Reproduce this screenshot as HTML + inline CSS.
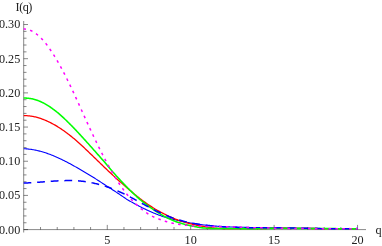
<!DOCTYPE html>
<html><head><meta charset="utf-8"><title>I(q)</title>
<style>
html,body{margin:0;padding:0;background:#fff;}
body{width:382px;height:246px;overflow:hidden;}
svg{display:block;}
text{font-family:"Liberation Serif",serif;font-size:12.2px;fill:#222;}
</style></head><body>
<svg width="382" height="246" viewBox="0 0 382 246">
<defs><filter id="gs" x="0" y="0" width="382" height="246" filterUnits="userSpaceOnUse"><feOffset dx="0" dy="0"/></filter></defs>
<rect width="382" height="246" fill="#fff"/>
<g stroke="#000" stroke-width="0.47" fill="none">
<line x1="23.7" y1="21.0" x2="23.7" y2="232.5"/>
<line x1="23.7" y1="229.6" x2="366" y2="229.6"/>
<line x1="23.7" y1="229.60" x2="28.0" y2="229.60"/>
<line x1="23.7" y1="222.76" x2="26.5" y2="222.76"/>
<line x1="23.7" y1="215.93" x2="26.5" y2="215.93"/>
<line x1="23.7" y1="209.09" x2="26.5" y2="209.09"/>
<line x1="23.7" y1="202.26" x2="26.5" y2="202.26"/>
<line x1="23.7" y1="195.42" x2="28.0" y2="195.42"/>
<line x1="23.7" y1="188.58" x2="26.5" y2="188.58"/>
<line x1="23.7" y1="181.75" x2="26.5" y2="181.75"/>
<line x1="23.7" y1="174.91" x2="26.5" y2="174.91"/>
<line x1="23.7" y1="168.08" x2="26.5" y2="168.08"/>
<line x1="23.7" y1="161.24" x2="28.0" y2="161.24"/>
<line x1="23.7" y1="154.40" x2="26.5" y2="154.40"/>
<line x1="23.7" y1="147.57" x2="26.5" y2="147.57"/>
<line x1="23.7" y1="140.73" x2="26.5" y2="140.73"/>
<line x1="23.7" y1="133.90" x2="26.5" y2="133.90"/>
<line x1="23.7" y1="127.06" x2="28.0" y2="127.06"/>
<line x1="23.7" y1="120.22" x2="26.5" y2="120.22"/>
<line x1="23.7" y1="113.39" x2="26.5" y2="113.39"/>
<line x1="23.7" y1="106.55" x2="26.5" y2="106.55"/>
<line x1="23.7" y1="99.72" x2="26.5" y2="99.72"/>
<line x1="23.7" y1="92.88" x2="28.0" y2="92.88"/>
<line x1="23.7" y1="86.04" x2="26.5" y2="86.04"/>
<line x1="23.7" y1="79.21" x2="26.5" y2="79.21"/>
<line x1="23.7" y1="72.37" x2="26.5" y2="72.37"/>
<line x1="23.7" y1="65.54" x2="26.5" y2="65.54"/>
<line x1="23.7" y1="58.70" x2="28.0" y2="58.70"/>
<line x1="23.7" y1="51.86" x2="26.5" y2="51.86"/>
<line x1="23.7" y1="45.03" x2="26.5" y2="45.03"/>
<line x1="23.7" y1="38.19" x2="26.5" y2="38.19"/>
<line x1="23.7" y1="31.36" x2="26.5" y2="31.36"/>
<line x1="23.7" y1="24.52" x2="28.0" y2="24.52"/>
<line x1="40.53" y1="229.6" x2="40.53" y2="227.0"/>
<line x1="57.22" y1="229.6" x2="57.22" y2="227.0"/>
<line x1="73.91" y1="229.6" x2="73.91" y2="227.0"/>
<line x1="90.59" y1="229.6" x2="90.59" y2="227.0"/>
<line x1="107.28" y1="229.6" x2="107.28" y2="224.9"/>
<line x1="123.96" y1="229.6" x2="123.96" y2="227.0"/>
<line x1="140.64" y1="229.6" x2="140.64" y2="227.0"/>
<line x1="157.33" y1="229.6" x2="157.33" y2="227.0"/>
<line x1="174.01" y1="229.6" x2="174.01" y2="227.0"/>
<line x1="190.70" y1="229.6" x2="190.70" y2="224.9"/>
<line x1="207.38" y1="229.6" x2="207.38" y2="227.0"/>
<line x1="224.07" y1="229.6" x2="224.07" y2="227.0"/>
<line x1="240.75" y1="229.6" x2="240.75" y2="227.0"/>
<line x1="257.44" y1="229.6" x2="257.44" y2="227.0"/>
<line x1="274.12" y1="229.6" x2="274.12" y2="224.9"/>
<line x1="290.81" y1="229.6" x2="290.81" y2="227.0"/>
<line x1="307.50" y1="229.6" x2="307.50" y2="227.0"/>
<line x1="324.18" y1="229.6" x2="324.18" y2="227.0"/>
<line x1="340.87" y1="229.6" x2="340.87" y2="227.0"/>
<line x1="357.55" y1="229.6" x2="357.55" y2="224.9"/>
</g>
<g fill="none" stroke-linejoin="round">
<path d="M23.70,148.71 L24.54,148.75 L25.37,148.79 L26.21,148.85 L27.05,148.92 L27.89,148.99 L28.72,149.08 L29.56,149.18 L30.40,149.29 L31.23,149.40 L32.07,149.53 L32.91,149.67 L33.75,149.81 L34.58,149.97 L35.42,150.14 L36.26,150.31 L37.09,150.50 L37.93,150.69 L38.77,150.89 L39.60,151.10 L40.44,151.32 L41.28,151.55 L42.12,151.79 L42.95,152.03 L43.79,152.29 L44.63,152.55 L45.46,152.82 L46.30,153.10 L47.14,153.39 L47.98,153.68 L48.81,153.98 L49.65,154.29 L50.49,154.61 L51.32,154.93 L52.16,155.26 L53.00,155.60 L53.84,155.94 L54.67,156.29 L55.51,156.65 L56.35,157.01 L57.18,157.38 L58.02,157.76 L58.86,158.14 L59.69,158.53 L60.53,158.92 L61.37,159.32 L62.21,159.73 L63.04,160.14 L63.88,160.55 L64.72,160.97 L65.55,161.40 L66.39,161.83 L67.23,162.27 L68.07,162.71 L68.90,163.15 L69.74,163.60 L70.58,164.06 L71.41,164.52 L72.25,164.98 L73.09,165.45 L73.93,165.92 L74.76,166.39 L75.60,166.87 L76.44,167.35 L77.27,167.84 L78.11,168.32 L78.95,168.82 L79.79,169.31 L80.62,169.81 L81.46,170.31 L82.30,170.81 L83.13,171.31 L83.97,171.81 L84.81,172.30 L85.64,172.79 L86.48,173.27 L87.32,173.76 L88.16,174.25 L88.99,174.74 L89.83,175.23 L90.67,175.73 L91.50,176.23 L92.34,176.73 L93.18,177.25 L94.02,177.77 L94.85,178.30 L95.69,178.84 L96.53,179.38 L97.36,179.92 L98.20,180.46 L99.04,181.01 L99.88,181.55 L100.71,182.09 L101.55,182.64 L102.39,183.18 L103.22,183.72 L104.06,184.27 L104.90,184.81 L105.74,185.36 L106.57,185.90 L107.41,186.44 L108.25,186.98 L109.08,187.52 L109.92,188.06 L110.76,188.60 L111.59,189.14 L112.43,189.68 L113.27,190.21 L114.11,190.75 L114.94,191.29 L115.78,191.84 L116.62,192.39 L117.45,192.95 L118.29,193.51 L119.13,194.07 L119.97,194.63 L120.80,195.19 L121.64,195.76 L122.48,196.34 L123.31,196.92 L124.15,197.50 L124.99,198.07 L125.83,198.63 L126.66,199.17 L127.50,199.69 L128.34,200.18 L129.17,200.67 L130.01,201.15 L130.85,201.63 L131.68,202.11 L132.52,202.58 L133.36,203.04 L134.20,203.51 L135.03,203.96 L135.87,204.42 L136.71,204.87 L137.54,205.31 L138.38,205.76 L139.22,206.19 L140.06,206.63 L140.89,207.05 L141.73,207.48 L142.57,207.89 L143.40,208.31 L144.24,208.72 L145.08,209.12 L145.92,209.52 L146.75,209.92 L147.59,210.31 L148.43,210.69 L149.26,211.07 L150.10,211.45 L150.94,211.82 L151.78,212.18 L152.61,212.54 L153.45,212.90 L154.29,213.25 L155.12,213.59 L155.96,213.93 L156.80,214.26 L157.63,214.59 L158.47,214.91 L159.31,215.23 L160.15,215.54 L160.98,215.85 L161.82,216.14 L162.66,216.42 L163.49,216.69 L164.33,216.95 L165.17,217.20 L166.01,217.44 L166.84,217.68 L167.68,217.91 L168.52,218.14 L169.35,218.36 L170.19,218.57 L171.03,218.78 L171.87,218.99 L172.70,219.20 L173.54,219.40 L174.38,219.61 L175.21,219.81 L176.05,220.01 L176.89,220.20 L177.73,220.39 L178.56,220.58 L179.40,220.76 L180.24,220.94 L181.07,221.12 L181.91,221.29 L182.75,221.47 L183.58,221.64 L184.42,221.82 L185.26,221.99 L186.10,222.16 L186.93,222.33 L187.77,222.50 L188.61,222.66 L189.44,222.81 L190.28,222.97 L191.12,223.12 L191.96,223.26 L192.79,223.40 L193.63,223.54 L194.47,223.68 L195.30,223.81 L196.14,223.94 L196.98,224.07 L197.82,224.19 L198.65,224.31 L199.49,224.43 L200.33,224.54 L201.16,224.65 L202.00,224.76 L202.84,224.86 L203.67,224.96 L204.51,225.06 L205.35,225.16 L206.19,225.25 L207.02,225.34 L207.86,225.43 L208.70,225.51 L209.53,225.59 L210.37,225.67 L211.21,225.75 L212.05,225.83 L212.88,225.90 L213.72,225.97 L214.56,226.04 L215.39,226.10 L216.23,226.16 L217.07,226.23 L217.91,226.29 L218.74,226.34 L219.58,226.40 L220.42,226.45 L221.25,226.50 L222.09,226.55 L222.93,226.60 L223.77,226.64 L224.60,226.69 L225.44,226.73 L226.28,226.77 L227.11,226.81 L227.95,226.84 L228.79,226.88 L229.62,226.91 L230.46,226.94 L231.30,226.97 L232.14,227.00 L232.97,227.03 L233.81,227.06 L234.65,227.09 L235.48,227.11 L236.32,227.13 L237.16,227.16 L238.00,227.18 L238.83,227.20 L239.67,227.22 L240.51,227.24 L241.34,227.25 L242.18,227.27 L243.02,227.29 L243.86,227.31 L244.69,227.33 L245.53,227.35 L246.37,227.37 L247.20,227.38 L248.04,227.40 L248.88,227.42 L249.72,227.44 L250.55,227.46 L251.39,227.48 L252.23,227.49 L253.06,227.51 L253.90,227.53 L254.74,227.55 L255.57,227.57 L256.41,227.59 L257.25,227.60 L258.09,227.62 L258.92,227.64 L259.76,227.66 L260.60,227.67 L261.43,227.69 L262.27,227.71 L263.11,227.72 L263.95,227.74 L264.78,227.75 L265.62,227.77 L266.46,227.78 L267.29,227.80 L268.13,227.81 L268.97,227.82 L269.81,227.83 L270.64,227.84 L271.48,227.85 L272.32,227.86 L273.15,227.87 L273.99,227.89 L274.83,227.90 L275.66,227.91 L276.50,227.92 L277.34,227.93 L278.18,227.94 L279.01,227.95 L279.85,227.96 L280.69,227.97 L281.52,227.98 L282.36,227.99 L283.20,228.00 L284.04,228.01 L284.87,228.03 L285.71,228.04 L286.55,228.05 L287.38,228.06 L288.22,228.07 L289.06,228.08 L289.90,228.09 L290.73,228.10 L291.57,228.11 L292.41,228.12 L293.24,228.13 L294.08,228.14 L294.92,228.15 L295.76,228.17 L296.59,228.18 L297.43,228.19 L298.27,228.20 L299.10,228.21 L299.94,228.22 L300.78,228.23 L301.61,228.24 L302.45,228.25 L303.29,228.26 L304.13,228.27 L304.96,228.28 L305.80,228.29 L306.64,228.30 L307.47,228.31 L308.31,228.32 L309.15,228.33 L309.99,228.34 L310.82,228.35 L311.66,228.36 L312.50,228.37 L313.33,228.38 L314.17,228.39 L315.01,228.40 L315.85,228.40 L316.68,228.41 L317.52,228.42 L318.36,228.43 L319.19,228.44 L320.03,228.45 L320.87,228.46 L321.71,228.47 L322.54,228.47 L323.38,228.48 L324.22,228.49 L325.05,228.50 L325.89,228.51 L326.73,228.51 L327.56,228.52 L328.40,228.53 L329.24,228.54 L330.08,228.54 L330.91,228.55 L331.75,228.56 L332.59,228.56 L333.42,228.57 L334.26,228.58 L335.10,228.58 L335.94,228.59 L336.77,228.60 L337.61,228.60 L338.45,228.61 L339.28,228.61 L340.12,228.62 L340.96,228.62 L341.80,228.63 L342.63,228.63 L343.47,228.64 L344.31,228.64 L345.14,228.65 L345.98,228.65 L346.82,228.66 L347.65,228.66 L348.49,228.66 L349.33,228.67 L350.17,228.67 L351.00,228.68 L351.84,228.68 L352.68,228.68 L353.51,228.68 L354.35,228.69 L355.19,228.69 L356.03,228.69 L356.86,228.69 L357.70,228.69" stroke="#0000ff" stroke-width="1.1"/>
<path d="M23.70,115.63 L24.54,115.63 L25.37,115.64 L26.21,115.67 L27.05,115.72 L27.89,115.78 L28.72,115.85 L29.56,115.94 L30.40,116.05 L31.23,116.17 L32.07,116.30 L32.91,116.45 L33.75,116.62 L34.58,116.79 L35.42,116.99 L36.26,117.19 L37.09,117.41 L37.93,117.65 L38.77,117.89 L39.60,118.15 L40.44,118.43 L41.28,118.72 L42.12,119.02 L42.95,119.33 L43.79,119.66 L44.63,120.00 L45.46,120.35 L46.30,120.71 L47.14,121.09 L47.98,121.47 L48.81,121.86 L49.65,122.27 L50.49,122.69 L51.32,123.11 L52.16,123.55 L53.00,124.00 L53.84,124.46 L54.67,124.93 L55.51,125.41 L56.35,125.91 L57.18,126.41 L58.02,126.93 L58.86,127.45 L59.69,127.99 L60.53,128.54 L61.37,129.10 L62.21,129.67 L63.04,130.24 L63.88,130.83 L64.72,131.43 L65.55,132.03 L66.39,132.65 L67.23,133.28 L68.07,133.91 L68.90,134.56 L69.74,135.21 L70.58,135.88 L71.41,136.55 L72.25,137.22 L73.09,137.91 L73.93,138.60 L74.76,139.31 L75.60,140.03 L76.44,140.76 L77.27,141.50 L78.11,142.24 L78.95,142.99 L79.79,143.75 L80.62,144.51 L81.46,145.28 L82.30,146.05 L83.13,146.82 L83.97,147.60 L84.81,148.39 L85.64,149.18 L86.48,149.97 L87.32,150.76 L88.16,151.56 L88.99,152.36 L89.83,153.16 L90.67,153.97 L91.50,154.77 L92.34,155.58 L93.18,156.39 L94.02,157.20 L94.85,158.01 L95.69,158.83 L96.53,159.64 L97.36,160.45 L98.20,161.26 L99.04,162.08 L99.88,162.89 L100.71,163.70 L101.55,164.51 L102.39,165.31 L103.22,166.12 L104.06,166.92 L104.90,167.72 L105.74,168.52 L106.57,169.32 L107.41,170.12 L108.25,170.91 L109.08,171.70 L109.92,172.49 L110.76,173.27 L111.59,174.05 L112.43,174.83 L113.27,175.61 L114.11,176.38 L114.94,177.15 L115.78,177.92 L116.62,178.67 L117.45,179.42 L118.29,180.17 L119.13,180.91 L119.97,181.64 L120.80,182.37 L121.64,183.10 L122.48,183.83 L123.31,184.55 L124.15,185.28 L124.99,186.01 L125.83,186.74 L126.66,187.47 L127.50,188.21 L128.34,188.94 L129.17,189.67 L130.01,190.39 L130.85,191.11 L131.68,191.82 L132.52,192.53 L133.36,193.24 L134.20,193.94 L135.03,194.64 L135.87,195.34 L136.71,196.03 L137.54,196.71 L138.38,197.38 L139.22,198.04 L140.06,198.69 L140.89,199.33 L141.73,199.96 L142.57,200.58 L143.40,201.20 L144.24,201.80 L145.08,202.40 L145.92,203.00 L146.75,203.58 L147.59,204.16 L148.43,204.73 L149.26,205.29 L150.10,205.84 L150.94,206.38 L151.78,206.91 L152.61,207.44 L153.45,207.96 L154.29,208.47 L155.12,208.98 L155.96,209.47 L156.80,209.96 L157.63,210.44 L158.47,210.91 L159.31,211.38 L160.15,211.83 L160.98,212.28 L161.82,212.73 L162.66,213.17 L163.49,213.60 L164.33,214.03 L165.17,214.45 L166.01,214.87 L166.84,215.28 L167.68,215.68 L168.52,216.08 L169.35,216.47 L170.19,216.85 L171.03,217.23 L171.87,217.60 L172.70,217.96 L173.54,218.31 L174.38,218.66 L175.21,218.99 L176.05,219.32 L176.89,219.64 L177.73,219.95 L178.56,220.26 L179.40,220.55 L180.24,220.83 L181.07,221.11 L181.91,221.38 L182.75,221.64 L183.58,221.90 L184.42,222.16 L185.26,222.40 L186.10,222.64 L186.93,222.88 L187.77,223.11 L188.61,223.33 L189.44,223.55 L190.28,223.76 L191.12,223.96 L191.96,224.17 L192.79,224.36 L193.63,224.55 L194.47,224.74 L195.30,224.92 L196.14,225.09 L196.98,225.26 L197.82,225.43 L198.65,225.59 L199.49,225.74 L200.33,225.89 L201.16,226.04 L202.00,226.18 L202.84,226.32 L203.67,226.45 L204.51,226.58 L205.35,226.72 L206.19,226.88 L207.02,227.03 L207.86,227.18 L208.70,227.32 L209.53,227.45 L210.37,227.57 L211.21,227.68 L212.05,227.79 L212.88,227.88 L213.72,227.97 L214.56,228.05 L215.39,228.13 L216.23,228.20 L217.07,228.26 L217.91,228.31 L218.74,228.36 L219.58,228.40 L220.42,228.43 L221.25,228.46 L222.09,228.49 L222.93,228.51 L223.77,228.52 L224.60,228.53 L225.44,228.54 L226.28,228.55 L227.11,228.55 L227.95,228.56 L228.79,228.56 L229.62,228.57 L230.46,228.57 L231.30,228.57 L232.14,228.57 L232.97,228.58 L233.81,228.58 L234.65,228.58 L235.48,228.58 L236.32,228.59 L237.16,228.59 L238.00,228.59 L238.83,228.60 L239.67,228.60 L240.51,228.61 L241.34,228.61 L242.18,228.62 L243.02,228.63 L243.86,228.64 L244.69,228.64 L245.53,228.65 L246.37,228.66 L247.20,228.67 L248.04,228.68 L248.88,228.69 L249.72,228.69 L250.55,228.70 L251.39,228.70 L252.23,228.71 L253.06,228.71 L253.90,228.71 L254.74,228.71 L255.57,228.71 L256.41,228.71 L257.25,228.70 L258.09,228.69 L258.92,228.68 L259.76,228.66 L260.60,228.64 L261.43,228.62 L262.27,228.60 L263.11,228.58 L263.95,228.55 L264.78,228.53 L265.62,228.50 L266.46,228.48 L267.29,228.46 L268.13,228.44 L268.97,228.42 L269.81,228.40 L270.64,228.39 L271.48,228.37 L272.32,228.36 L273.15,228.34 L273.99,228.33 L274.83,228.32 L275.66,228.31 L276.50,228.29 L277.34,228.28 L278.18,228.28 L279.01,228.27 L279.85,228.27 L280.69,228.26 L281.52,228.26 L282.36,228.26 L283.20,228.26 L284.04,228.27 L284.87,228.27 L285.71,228.27 L286.55,228.28 L287.38,228.28 L288.22,228.29 L289.06,228.29 L289.90,228.30 L290.73,228.31 L291.57,228.31 L292.41,228.32 L293.24,228.33 L294.08,228.34 L294.92,228.34 L295.76,228.35 L296.59,228.36 L297.43,228.37 L298.27,228.37 L299.10,228.38 L299.94,228.39 L300.78,228.39 L301.61,228.40 L302.45,228.40 L303.29,228.41 L304.13,228.42 L304.96,228.42 L305.80,228.43 L306.64,228.44 L307.47,228.45 L308.31,228.45 L309.15,228.46 L309.99,228.47 L310.82,228.47 L311.66,228.48 L312.50,228.49 L313.33,228.49 L314.17,228.50 L315.01,228.51 L315.85,228.52 L316.68,228.52 L317.52,228.53 L318.36,228.54 L319.19,228.54 L320.03,228.55 L320.87,228.56 L321.71,228.56 L322.54,228.57 L323.38,228.58 L324.22,228.58 L325.05,228.59 L325.89,228.59 L326.73,228.60 L327.56,228.60 L328.40,228.61 L329.24,228.61 L330.08,228.62 L330.91,228.62 L331.75,228.63 L332.59,228.63 L333.42,228.63 L334.26,228.64 L335.10,228.64 L335.94,228.64 L336.77,228.65 L337.61,228.65 L338.45,228.65 L339.28,228.66 L340.12,228.66 L340.96,228.66 L341.80,228.66 L342.63,228.67 L343.47,228.67 L344.31,228.67 L345.14,228.67 L345.98,228.67 L346.82,228.68 L347.65,228.68 L348.49,228.68 L349.33,228.68 L350.17,228.68 L351.00,228.68 L351.84,228.68 L352.68,228.68 L353.51,228.68 L354.35,228.68 L355.19,228.68 L356.03,228.68 L356.86,228.68 L357.70,228.67" stroke="#ff0000" stroke-width="1.3"/>
<path d="M23.70,98.10 L24.54,98.09 L25.37,98.10 L26.21,98.12 L27.05,98.17 L27.89,98.23 L28.72,98.31 L29.56,98.41 L30.40,98.54 L31.23,98.68 L32.07,98.84 L32.91,99.02 L33.75,99.23 L34.58,99.45 L35.42,99.70 L36.26,99.96 L37.09,100.24 L37.93,100.55 L38.77,100.87 L39.60,101.21 L40.44,101.57 L41.28,101.94 L42.12,102.34 L42.95,102.75 L43.79,103.18 L44.63,103.63 L45.46,104.10 L46.30,104.58 L47.14,105.08 L47.98,105.60 L48.81,106.13 L49.65,106.68 L50.49,107.24 L51.32,107.82 L52.16,108.42 L53.00,109.02 L53.84,109.65 L54.67,110.28 L55.51,110.93 L56.35,111.60 L57.18,112.27 L58.02,112.96 L58.86,113.67 L59.69,114.39 L60.53,115.12 L61.37,115.87 L62.21,116.62 L63.04,117.39 L63.88,118.16 L64.72,118.95 L65.55,119.74 L66.39,120.55 L67.23,121.36 L68.07,122.18 L68.90,123.01 L69.74,123.84 L70.58,124.69 L71.41,125.54 L72.25,126.40 L73.09,127.26 L73.93,128.13 L74.76,129.01 L75.60,129.89 L76.44,130.78 L77.27,131.67 L78.11,132.57 L78.95,133.47 L79.79,134.38 L80.62,135.29 L81.46,136.20 L82.30,137.11 L83.13,138.03 L83.97,138.95 L84.81,139.88 L85.64,140.80 L86.48,141.73 L87.32,142.66 L88.16,143.59 L88.99,144.52 L89.83,145.46 L90.67,146.40 L91.50,147.33 L92.34,148.27 L93.18,149.21 L94.02,150.15 L94.85,151.10 L95.69,152.04 L96.53,152.98 L97.36,153.92 L98.20,154.87 L99.04,155.81 L99.88,156.75 L100.71,157.70 L101.55,158.66 L102.39,159.63 L103.22,160.61 L104.06,161.59 L104.90,162.57 L105.74,163.56 L106.57,164.54 L107.41,165.52 L108.25,166.50 L109.08,167.49 L109.92,168.48 L110.76,169.46 L111.59,170.45 L112.43,171.43 L113.27,172.40 L114.11,173.35 L114.94,174.29 L115.78,175.22 L116.62,176.15 L117.45,177.07 L118.29,177.99 L119.13,178.90 L119.97,179.80 L120.80,180.71 L121.64,181.60 L122.48,182.49 L123.31,183.38 L124.15,184.25 L124.99,185.13 L125.83,185.99 L126.66,186.85 L127.50,187.70 L128.34,188.54 L129.17,189.37 L130.01,190.20 L130.85,191.02 L131.68,191.84 L132.52,192.64 L133.36,193.44 L134.20,194.24 L135.03,195.02 L135.87,195.80 L136.71,196.57 L137.54,197.33 L138.38,198.08 L139.22,198.82 L140.06,199.56 L140.89,200.28 L141.73,200.98 L142.57,201.66 L143.40,202.32 L144.24,202.97 L145.08,203.61 L145.92,204.24 L146.75,204.85 L147.59,205.47 L148.43,206.07 L149.26,206.68 L150.10,207.29 L150.94,207.89 L151.78,208.48 L152.61,209.06 L153.45,209.63 L154.29,210.19 L155.12,210.75 L155.96,211.29 L156.80,211.83 L157.63,212.36 L158.47,212.89 L159.31,213.41 L160.15,213.93 L160.98,214.43 L161.82,214.93 L162.66,215.41 L163.49,215.88 L164.33,216.34 L165.17,216.79 L166.01,217.23 L166.84,217.66 L167.68,218.07 L168.52,218.47 L169.35,218.87 L170.19,219.25 L171.03,219.62 L171.87,219.99 L172.70,220.34 L173.54,220.68 L174.38,221.01 L175.21,221.34 L176.05,221.65 L176.89,221.96 L177.73,222.25 L178.56,222.54 L179.40,222.82 L180.24,223.08 L181.07,223.34 L181.91,223.60 L182.75,223.84 L183.58,224.07 L184.42,224.30 L185.26,224.52 L186.10,224.73 L186.93,224.94 L187.77,225.13 L188.61,225.32 L189.44,225.51 L190.28,225.68 L191.12,225.85 L191.96,226.01 L192.79,226.17 L193.63,226.32 L194.47,226.47 L195.30,226.64 L196.14,226.82 L196.98,227.00 L197.82,227.19 L198.65,227.35 L199.49,227.49 L200.33,227.60 L201.16,227.70 L202.00,227.79 L202.84,227.87 L203.67,227.95 L204.51,228.01 L205.35,228.08 L206.19,228.14 L207.02,228.19 L207.86,228.24 L208.70,228.29 L209.53,228.33 L210.37,228.36 L211.21,228.39 L212.05,228.42 L212.88,228.44 L213.72,228.46 L214.56,228.48 L215.39,228.50 L216.23,228.51 L217.07,228.52 L217.91,228.53 L218.74,228.54 L219.58,228.54 L220.42,228.54 L221.25,228.54 L222.09,228.54 L222.93,228.54 L223.77,228.54 L224.60,228.54 L225.44,228.54 L226.28,228.55 L227.11,228.55 L227.95,228.55 L228.79,228.56 L229.62,228.56 L230.46,228.57 L231.30,228.57 L232.14,228.57 L232.97,228.58 L233.81,228.58 L234.65,228.58 L235.48,228.58 L236.32,228.59 L237.16,228.59 L238.00,228.59 L238.83,228.60 L239.67,228.60 L240.51,228.61 L241.34,228.61 L242.18,228.62 L243.02,228.63 L243.86,228.64 L244.69,228.64 L245.53,228.65 L246.37,228.66 L247.20,228.67 L248.04,228.68 L248.88,228.69 L249.72,228.69 L250.55,228.70 L251.39,228.70 L252.23,228.71 L253.06,228.71 L253.90,228.71 L254.74,228.71 L255.57,228.71 L256.41,228.71 L257.25,228.70 L258.09,228.69 L258.92,228.68 L259.76,228.66 L260.60,228.64 L261.43,228.62 L262.27,228.60 L263.11,228.58 L263.95,228.55 L264.78,228.53 L265.62,228.50 L266.46,228.48 L267.29,228.46 L268.13,228.44 L268.97,228.42 L269.81,228.40 L270.64,228.39 L271.48,228.37 L272.32,228.36 L273.15,228.34 L273.99,228.33 L274.83,228.32 L275.66,228.31 L276.50,228.29 L277.34,228.28 L278.18,228.28 L279.01,228.27 L279.85,228.27 L280.69,228.26 L281.52,228.26 L282.36,228.26 L283.20,228.26 L284.04,228.27 L284.87,228.27 L285.71,228.27 L286.55,228.28 L287.38,228.28 L288.22,228.29 L289.06,228.29 L289.90,228.30 L290.73,228.31 L291.57,228.31 L292.41,228.32 L293.24,228.33 L294.08,228.34 L294.92,228.34 L295.76,228.35 L296.59,228.36 L297.43,228.37 L298.27,228.37 L299.10,228.38 L299.94,228.39 L300.78,228.39 L301.61,228.40 L302.45,228.40 L303.29,228.41 L304.13,228.42 L304.96,228.42 L305.80,228.43 L306.64,228.44 L307.47,228.45 L308.31,228.45 L309.15,228.46 L309.99,228.47 L310.82,228.47 L311.66,228.48 L312.50,228.49 L313.33,228.49 L314.17,228.50 L315.01,228.51 L315.85,228.52 L316.68,228.52 L317.52,228.53 L318.36,228.54 L319.19,228.54 L320.03,228.55 L320.87,228.56 L321.71,228.56 L322.54,228.57 L323.38,228.58 L324.22,228.58 L325.05,228.59 L325.89,228.59 L326.73,228.60 L327.56,228.60 L328.40,228.61 L329.24,228.61 L330.08,228.62 L330.91,228.62 L331.75,228.63 L332.59,228.63 L333.42,228.63 L334.26,228.64 L335.10,228.64 L335.94,228.64 L336.77,228.65 L337.61,228.65 L338.45,228.65 L339.28,228.66 L340.12,228.66 L340.96,228.66 L341.80,228.66 L342.63,228.67 L343.47,228.67 L344.31,228.67 L345.14,228.67 L345.98,228.67 L346.82,228.68 L347.65,228.68 L348.49,228.68 L349.33,228.68 L350.17,228.68 L351.00,228.68 L351.84,228.68 L352.68,228.68 L353.51,228.68 L354.35,228.68 L355.19,228.68 L356.03,228.68 L356.86,228.68 L357.70,228.67" stroke="#00ff00" stroke-width="1.55"/>
<path d="M23.70,183.08 L24.54,183.05 L25.37,183.02 L26.21,182.99 L27.05,182.95 L27.89,182.91 L28.72,182.87 L29.56,182.83 L30.40,182.78 L31.23,182.73 L32.07,182.68 L32.91,182.63 L33.75,182.57 L34.58,182.51 L35.42,182.45 L36.26,182.39 L37.09,182.33 L37.93,182.27 L38.77,182.21 L39.60,182.14 L40.44,182.08 L41.28,182.01 L42.12,181.95 L42.95,181.88 L43.79,181.81 L44.63,181.75 L45.46,181.68 L46.30,181.62 L47.14,181.56 L47.98,181.49 L48.81,181.43 L49.65,181.37 L50.49,181.31 L51.32,181.26 L52.16,181.20 L53.00,181.15 L53.84,181.10 L54.67,181.05 L55.51,181.00 L56.35,180.95 L57.18,180.91 L58.02,180.87 L58.86,180.84 L59.69,180.81 L60.53,180.78 L61.37,180.75 L62.21,180.72 L63.04,180.69 L63.88,180.66 L64.72,180.63 L65.55,180.61 L66.39,180.59 L67.23,180.57 L68.07,180.55 L68.90,180.54 L69.74,180.54 L70.58,180.54 L71.41,180.54 L72.25,180.55 L73.09,180.57 L73.93,180.59 L74.76,180.62 L75.60,180.66 L76.44,180.70 L77.27,180.75 L78.11,180.82 L78.95,180.89 L79.79,180.97 L80.62,181.05 L81.46,181.15 L82.30,181.25 L83.13,181.35 L83.97,181.46 L84.81,181.58 L85.64,181.70 L86.48,181.82 L87.32,181.96 L88.16,182.10 L88.99,182.24 L89.83,182.39 L90.67,182.55 L91.50,182.71 L92.34,182.88 L93.18,183.05 L94.02,183.23 L94.85,183.42 L95.69,183.61 L96.53,183.81 L97.36,184.01 L98.20,184.22 L99.04,184.44 L99.88,184.66 L100.71,184.89 L101.55,185.12 L102.39,185.37 L103.22,185.61 L104.06,185.87 L104.90,186.13 L105.74,186.40 L106.57,186.67 L107.41,186.95 L108.25,187.24 L109.08,187.53 L109.92,187.83 L110.76,188.14 L111.59,188.45 L112.43,188.77 L113.27,189.10 L114.11,189.43 L114.94,189.77 L115.78,190.12 L116.62,190.47 L117.45,190.83 L118.29,191.20 L119.13,191.57 L119.97,191.95 L120.80,192.34 L121.64,192.73 L122.48,193.13 L123.31,193.54 L124.15,193.95 L124.99,194.36 L125.83,194.78 L126.66,195.20 L127.50,195.63 L128.34,196.06 L129.17,196.49 L130.01,196.93 L130.85,197.37 L131.68,197.82 L132.52,198.26 L133.36,198.71 L134.20,199.16 L135.03,199.62 L135.87,200.07 L136.71,200.53 L137.54,200.99 L138.38,201.44 L139.22,201.90 L140.06,202.36 L140.89,202.82 L141.73,203.28 L142.57,203.74 L143.40,204.19 L144.24,204.65 L145.08,205.10 L145.92,205.56 L146.75,206.01 L147.59,206.46 L148.43,206.91 L149.26,207.35 L150.10,207.80 L150.94,208.24 L151.78,208.67 L152.61,209.11 L153.45,209.53 L154.29,209.96 L155.12,210.38 L155.96,210.80 L156.80,211.21 L157.63,211.62 L158.47,212.02 L159.31,212.41 L160.15,212.80 L160.98,213.19 L161.82,213.56 L162.66,213.93 L163.49,214.30 L164.33,214.66 L165.17,215.01 L166.01,215.36 L166.84,215.70 L167.68,216.03 L168.52,216.36 L169.35,216.69 L170.19,217.00 L171.03,217.31 L171.87,217.62 L172.70,217.91 L173.54,218.20 L174.38,218.49 L175.21,218.77 L176.05,219.04 L176.89,219.31 L177.73,219.57 L178.56,219.82 L179.40,220.07 L180.24,220.32 L181.07,220.55 L181.91,220.78 L182.75,221.01 L183.58,221.22 L184.42,221.43 L185.26,221.64 L186.10,221.84 L186.93,222.03 L187.77,222.22 L188.61,222.40 L189.44,222.58 L190.28,222.75 L191.12,222.91 L191.96,223.08 L192.79,223.23 L193.63,223.38 L194.47,223.53 L195.30,223.67 L196.14,223.81 L196.98,223.95 L197.82,224.08 L198.65,224.20 L199.49,224.33 L200.33,224.45 L201.16,224.57 L202.00,224.68 L202.84,224.80 L203.67,224.91 L204.51,225.01 L205.35,225.12 L206.19,225.22 L207.02,225.32 L207.86,225.41 L208.70,225.51 L209.53,225.60 L210.37,225.69 L211.21,225.77 L212.05,225.86 L212.88,225.94 L213.72,226.02 L214.56,226.09 L215.39,226.17 L216.23,226.24 L217.07,226.31 L217.91,226.37 L218.74,226.44 L219.58,226.50 L220.42,226.56 L221.25,226.62 L222.09,226.68 L222.93,226.73 L223.77,226.79 L224.60,226.84 L225.44,226.89 L226.28,226.93 L227.11,226.98 L227.95,227.02 L228.79,227.07 L229.62,227.11 L230.46,227.14 L231.30,227.18 L232.14,227.22 L232.97,227.25 L233.81,227.28 L234.65,227.31 L235.48,227.34 L236.32,227.37 L237.16,227.40 L238.00,227.43 L238.83,227.45 L239.67,227.47 L240.51,227.49 L241.34,227.51 L242.18,227.53 L243.02,227.55 L243.86,227.57 L244.69,227.59 L245.53,227.60 L246.37,227.62 L247.20,227.63 L248.04,227.64 L248.88,227.66 L249.72,227.67 L250.55,227.68 L251.39,227.69 L252.23,227.70 L253.06,227.70 L253.90,227.71 L254.74,227.72 L255.57,227.73 L256.41,227.73 L257.25,227.74 L258.09,227.74 L258.92,227.75 L259.76,227.75 L260.60,227.76 L261.43,227.76 L262.27,227.76 L263.11,227.77 L263.95,227.77 L264.78,227.77 L265.62,227.78 L266.46,227.78 L267.29,227.78 L268.13,227.79 L268.97,227.79 L269.81,227.79 L270.64,227.80 L271.48,227.80 L272.32,227.80 L273.15,227.81 L273.99,227.81 L274.83,227.82 L275.66,227.82 L276.50,227.83 L277.34,227.83 L278.18,227.84 L279.01,227.85 L279.85,227.86 L280.69,227.86 L281.52,227.87 L282.36,227.88 L283.20,227.89 L284.04,227.90 L284.87,227.91 L285.71,227.93 L286.55,227.94 L287.38,227.95 L288.22,227.96 L289.06,227.98 L289.90,227.99 L290.73,228.01 L291.57,228.02 L292.41,228.04 L293.24,228.06 L294.08,228.07 L294.92,228.09 L295.76,228.11 L296.59,228.12 L297.43,228.14 L298.27,228.16 L299.10,228.18 L299.94,228.19 L300.78,228.21 L301.61,228.23 L302.45,228.25 L303.29,228.27 L304.13,228.29 L304.96,228.31 L305.80,228.32 L306.64,228.34 L307.47,228.36 L308.31,228.38 L309.15,228.40 L309.99,228.42 L310.82,228.43 L311.66,228.45 L312.50,228.47 L313.33,228.49 L314.17,228.50 L315.01,228.52 L315.85,228.54 L316.68,228.55 L317.52,228.57 L318.36,228.58 L319.19,228.60 L320.03,228.61 L320.87,228.63 L321.71,228.64 L322.54,228.65 L323.38,228.67 L324.22,228.68 L325.05,228.69 L325.89,228.70 L326.73,228.71 L327.56,228.72 L328.40,228.73 L329.24,228.74 L330.08,228.74 L330.91,228.75 L331.75,228.75 L332.59,228.76 L333.42,228.76 L334.26,228.77 L335.10,228.77 L335.94,228.77 L336.77,228.77 L337.61,228.77 L338.45,228.77 L339.28,228.77 L340.12,228.76 L340.96,228.76 L341.80,228.75 L342.63,228.74 L343.47,228.74 L344.31,228.73 L345.14,228.72 L345.98,228.70 L346.82,228.69 L347.65,228.68 L348.49,228.66 L349.33,228.64 L350.17,228.62 L351.00,228.60 L351.84,228.58 L352.68,228.56 L353.51,228.54 L354.35,228.51 L355.19,228.48 L356.03,228.46 L356.86,228.43 L357.70,228.39" stroke="#0000ff" stroke-width="1.5" stroke-dasharray="7.8 5.85" stroke-dashoffset="0.2"/>
<path d="M23.70,29.05 L24.54,29.07 L25.37,29.12 L26.21,29.22 L27.05,29.36 L27.89,29.54 L28.72,29.76 L29.56,30.03 L30.40,30.35 L31.23,30.74 L32.07,31.16 L32.91,31.63 L33.75,32.13 L34.58,32.68 L35.42,33.26 L36.26,33.88 L37.09,34.53 L37.93,35.23 L38.77,35.96 L39.60,36.72 L40.44,37.53 L41.28,38.36 L42.12,39.23 L42.95,40.14 L43.79,41.08 L44.63,42.05 L45.46,43.08 L46.30,44.15 L47.14,45.26 L47.98,46.41 L48.81,47.59 L49.65,48.79 L50.49,50.02 L51.32,51.26 L52.16,52.52 L53.00,53.80 L53.84,55.10 L54.67,56.44 L55.51,57.80 L56.35,59.19 L57.18,60.61 L58.02,62.05 L58.86,63.51 L59.69,65.01 L60.53,66.52 L61.37,68.06 L62.21,69.63 L63.04,71.22 L63.88,72.82 L64.72,74.45 L65.55,76.10 L66.39,77.77 L67.23,79.46 L68.07,81.16 L68.90,82.88 L69.74,84.61 L70.58,86.36 L71.41,88.12 L72.25,89.90 L73.09,91.68 L73.93,93.48 L74.76,95.28 L75.60,97.10 L76.44,98.92 L77.27,100.74 L78.11,102.58 L78.95,104.42 L79.79,106.26 L80.62,108.10 L81.46,109.95 L82.30,111.80 L83.13,113.65 L83.97,115.49 L84.81,117.34 L85.64,119.18 L86.48,121.02 L87.32,122.85 L88.16,124.68 L88.99,126.50 L89.83,128.32 L90.67,130.12 L91.50,131.92 L92.34,133.71 L93.18,135.49 L94.02,137.25 L94.85,139.01 L95.69,140.76 L96.53,142.49 L97.36,144.21 L98.20,145.92 L99.04,147.62 L99.88,149.31 L100.71,150.98 L101.55,152.63 L102.39,154.28 L103.22,155.91 L104.06,157.52 L104.90,159.12 L105.74,160.70 L106.57,162.27 L107.41,163.81 L108.25,165.35 L109.08,166.86 L109.92,168.36 L110.76,169.84 L111.59,171.30 L112.43,172.74 L113.27,174.16 L114.11,175.56 L114.94,176.94 L115.78,178.30 L116.62,179.64 L117.45,180.96 L118.29,182.26 L119.13,183.53 L119.97,184.78 L120.80,186.01 L121.64,187.21 L122.48,188.39 L123.31,189.55 L124.15,190.68 L124.99,191.79 L125.83,192.87 L126.66,193.93 L127.50,194.97 L128.34,195.98 L129.17,196.97 L130.01,197.94 L130.85,198.89 L131.68,199.81 L132.52,200.71 L133.36,201.59 L134.20,202.45 L135.03,203.29 L135.87,204.11 L136.71,204.90 L137.54,205.68 L138.38,206.43 L139.22,207.17 L140.06,207.89 L140.89,208.59 L141.73,209.27 L142.57,209.93 L143.40,210.57 L144.24,211.19 L145.08,211.80 L145.92,212.39 L146.75,212.96 L147.59,213.52 L148.43,214.06 L149.26,214.58 L150.10,215.09 L150.94,215.57 L151.78,216.01 L152.61,216.43 L153.45,216.82 L154.29,217.19 L155.12,217.55 L155.96,217.89 L156.80,218.22 L157.63,218.54 L158.47,218.87 L159.31,219.19 L160.15,219.52 L160.98,219.84 L161.82,220.15 L162.66,220.45 L163.49,220.74 L164.33,221.02 L165.17,221.28 L166.01,221.54 L166.84,221.78 L167.68,222.01 L168.52,222.24 L169.35,222.45 L170.19,222.65 L171.03,222.85 L171.87,223.04 L172.70,223.21 L173.54,223.38 L174.38,223.55 L175.21,223.71 L176.05,223.86 L176.89,224.00 L177.73,224.14 L178.56,224.27 L179.40,224.40 L180.24,224.52 L181.07,224.63 L181.91,224.74 L182.75,224.85 L183.58,224.95 L184.42,225.04 L185.26,225.13 L186.10,225.22 L186.93,225.31 L187.77,225.40 L188.61,225.49 L189.44,225.58 L190.28,225.66 L191.12,225.75 L191.96,225.82 L192.79,225.89 L193.63,225.95 L194.47,226.01 L195.30,226.05 L196.14,226.10 L196.98,226.13 L197.82,226.17 L198.65,226.20 L199.49,226.24 L200.33,226.26 L201.16,226.29 L202.00,226.31 L202.84,226.33 L203.67,226.35 L204.51,226.36 L205.35,226.38 L206.19,226.39 L207.02,226.40 L207.86,226.41 L208.70,226.42 L209.53,226.43 L210.37,226.44 L211.21,226.45 L212.05,226.46 L212.88,226.48 L213.72,226.49 L214.56,226.51 L215.39,226.52 L216.23,226.54 L217.07,226.56 L217.91,226.58 L218.74,226.60 L219.58,226.62 L220.42,226.64 L221.25,226.66 L222.09,226.69 L222.93,226.71 L223.77,226.74 L224.60,226.76 L225.44,226.79 L226.28,226.81 L227.11,226.84 L227.95,226.87 L228.79,226.89 L229.62,226.92 L230.46,226.95 L231.30,226.98 L232.14,227.01 L232.97,227.03 L233.81,227.06 L234.65,227.09 L235.48,227.12 L236.32,227.15 L237.16,227.18 L238.00,227.21 L238.83,227.23 L239.67,227.26 L240.51,227.29 L241.34,227.32 L242.18,227.34 L243.02,227.37 L243.86,227.39 L244.69,227.42 L245.53,227.45 L246.37,227.47 L247.20,227.50 L248.04,227.52 L248.88,227.55 L249.72,227.57 L250.55,227.59 L251.39,227.62 L252.23,227.64 L253.06,227.66 L253.90,227.68 L254.74,227.71 L255.57,227.73 L256.41,227.75 L257.25,227.77 L258.09,227.79 L258.92,227.81 L259.76,227.83 L260.60,227.85 L261.43,227.87 L262.27,227.89 L263.11,227.91 L263.95,227.93 L264.78,227.95 L265.62,227.97 L266.46,227.99 L267.29,228.01 L268.13,228.02 L268.97,228.04 L269.81,228.06 L270.64,228.07 L271.48,228.09 L272.32,228.11 L273.15,228.12 L273.99,228.14 L274.83,228.15 L275.66,228.17 L276.50,228.19 L277.34,228.20 L278.18,228.21 L279.01,228.23 L279.85,228.24 L280.69,228.26 L281.52,228.27 L282.36,228.28 L283.20,228.30 L284.04,228.31 L284.87,228.32 L285.71,228.33 L286.55,228.35 L287.38,228.36 L288.22,228.37 L289.06,228.38 L289.90,228.39 L290.73,228.40 L291.57,228.41 L292.41,228.42 L293.24,228.43 L294.08,228.44 L294.92,228.45 L295.76,228.46 L296.59,228.47 L297.43,228.48 L298.27,228.49 L299.10,228.50 L299.94,228.51 L300.78,228.52 L301.61,228.52 L302.45,228.53 L303.29,228.54 L304.13,228.55 L304.96,228.55 L305.80,228.56 L306.64,228.57 L307.47,228.58 L308.31,228.58 L309.15,228.59 L309.99,228.59 L310.82,228.60 L311.66,228.61 L312.50,228.61 L313.33,228.62 L314.17,228.62 L315.01,228.63 L315.85,228.63 L316.68,228.64 L317.52,228.64 L318.36,228.64 L319.19,228.65 L320.03,228.65 L320.87,228.65 L321.71,228.66 L322.54,228.66 L323.38,228.66 L324.22,228.67 L325.05,228.67 L325.89,228.67 L326.73,228.68 L327.56,228.68 L328.40,228.68 L329.24,228.68 L330.08,228.68 L330.91,228.68 L331.75,228.69 L332.59,228.69 L333.42,228.69 L334.26,228.69 L335.10,228.69 L335.94,228.69 L336.77,228.69 L337.61,228.69 L338.45,228.69 L339.28,228.69 L340.12,228.69 L340.96,228.69 L341.80,228.69 L342.63,228.69 L343.47,228.69 L344.31,228.69 L345.14,228.69 L345.98,228.69 L346.82,228.69 L347.65,228.68 L348.49,228.68 L349.33,228.68 L350.17,228.68 L351.00,228.68 L351.84,228.68 L352.68,228.67 L353.51,228.67 L354.35,228.67 L355.19,228.67 L356.03,228.66 L356.86,228.66 L357.70,228.66" stroke="#ff00ff" stroke-width="1.5" stroke-dasharray="2.6 4.245" stroke-dashoffset="0.3"/>
</g>
<g filter="url(#gs)">
<text x="20.25" y="233.50" text-anchor="end">0.00</text>
<text x="20.25" y="199.32" text-anchor="end">0.05</text>
<text x="20.25" y="165.14" text-anchor="end">0.10</text>
<text x="20.25" y="130.96" text-anchor="end">0.15</text>
<text x="20.25" y="96.78" text-anchor="end">0.20</text>
<text x="20.25" y="62.60" text-anchor="end">0.25</text>
<text x="20.25" y="28.42" text-anchor="end">0.30</text>
<text x="107.23" y="243.8" text-anchor="middle">5</text>
<text x="190.65" y="243.8" text-anchor="middle">10</text>
<text x="274.07" y="243.8" text-anchor="middle">15</text>
<text x="357.50" y="243.8" text-anchor="middle">20</text>
<text x="15.6" y="11.0" letter-spacing="-0.5">I(q)</text>
<text x="375.6" y="233.8">q</text>
</g>
</svg>
</body></html>
